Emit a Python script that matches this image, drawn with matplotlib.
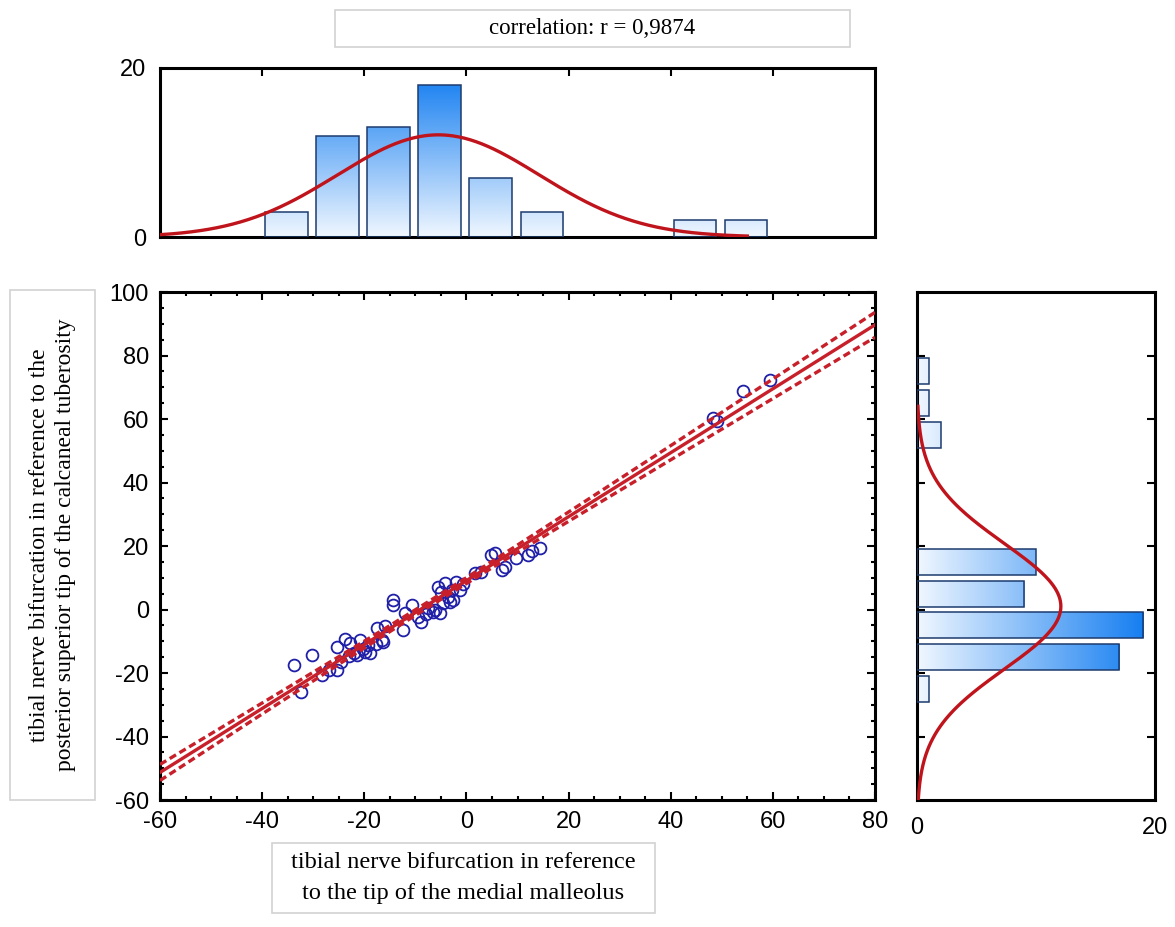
import numpy as np
import matplotlib

matplotlib.use("Agg")

import matplotlib.pyplot as plt
from matplotlib.colors import LinearSegmentedColormap
from matplotlib.patches import Rectangle
from matplotlib.ticker import MultipleLocator


# distance of the bifurcation from the medial malleolus (x) and from the
# calcaneal tuberosity (y), one pair per specimen
malleolus_mm = [
    -32.4, -33.7, -30.3,
    -28.2, -27.0, -25.3, -25.4, -24.5, -23.8, -23.0, -22.8, -22.0, -21.5, -20.8, -20.3,
    -19.9, -19.3, -18.9, -17.8, -17.6, -16.6, -16.3, -16.0, -14.4, -14.4, -12.4, -12.0, -10.7,
    -9.5, -8.8, -8.0, -7.5, -6.6, -6.1, -5.6, -5.2, -5.0, -4.6, -4.2, -3.6, -3.2, -2.9, -2.6,
    -2.0, -1.3, -0.6,
    1.7, 2.8, 4.9, 5.5, 6.9, 7.6, 9.8,
    12.1, 12.8, 14.4,
    48.3, 49.0, 54.2, 59.5,
]
calcaneus_mm = [
    -25.9, -17.5, -14.3,
    -20.5, -19.0, -19.0, -11.7, -16.5, -9.2, -14.5, -10.6, -13.8, -14.3, -9.6, -12.5,
    -13.3, -11.2, -13.7, -10.8, -5.8, -9.6, -10.3, -5.2, 3.0, 1.4, -6.5, -1.1, 1.4,
    -2.5, -3.8, -1.5, 0.5, -0.8, -0.2, 7.2, -1.1, 5.5, 2.0, 8.3, 4.0, 2.5, 6.1, 3.0,
    8.8, 6.1, 8.0,
    11.5, 11.8, 17.2, 17.8, 12.4, 13.5, 16.2,
    17.2, 18.5, 19.4,
    60.3, 59.5, 68.8, 72.3,
]
r_value = "0,9874"

# marginal histograms, 10 mm bins
x_bin_left = [-40, -30, -20, -10, 0, 10, 40, 50]
x_counts = [3, 12, 13, 18, 7, 3, 2, 2]
y_bin_low = [70, 60, 50, 10, 0, -10, -20, -30]
y_counts = [1, 1, 2, 10, 9, 19, 17, 1]
bin_width = 10

# fitted normal curves drawn over the histograms
x_mean, x_sd, x_curve_range = -5.5, 19.8, (-60, 55)
y_mean, y_sd, y_curve_range = 1.0, 19.8, (-60, 64)

RED = "#c8202a"
CURVE_RED = "#c0141c"
BLUE_EDGE = "#1d3b6e"
POINT_BLUE = "#1f1fa8"
bar_cmap = LinearSegmentedColormap.from_list("bar", ["#f0f7ff", "#0a78f0"])

plt.rcParams.update({
    "font.family": ["Liberation Sans", "DejaVu Sans"],
    "font.size": 17,
    "axes.unicode_minus": False,
})

W, H = 1175, 927
fig = plt.figure(figsize=(W / 100, H / 100), dpi=100)


def frac(x0, y0, x1, y1):
    # pixel box -> figure fraction rect
    return [x0 / W, 1 - y1 / H, (x1 - x0) / W, (y1 - y0) / H]


ax = fig.add_axes(frac(160, 292, 875, 800))
ax_top = fig.add_axes(frac(160, 68, 875, 237))
ax_right = fig.add_axes(frac(917, 292, 1155, 800))

for a in (ax, ax_top, ax_right):
    for spine in a.spines.values():
        spine.set_linewidth(2.2)


def gradient_bars(a, lefts, widths, starts, lengths, horizontal):
    grad = np.linspace(0, 1, 256)
    for pos, w, s, ln in zip(lefts, widths, starts, lengths):
        if horizontal:
            rect = Rectangle((s, pos), ln, w, facecolor="none",
                             edgecolor=BLUE_EDGE, linewidth=1.1, zorder=3)
            img = grad.reshape(1, -1)
            extent = [0, 20, pos, pos + w]
        else:
            rect = Rectangle((pos, s), w, ln, facecolor="none",
                             edgecolor=BLUE_EDGE, linewidth=1.1, zorder=3)
            img = grad.reshape(-1, 1)
            extent = [pos, pos + w, 0, 20]
        a.add_patch(rect)
        im = a.imshow(img, extent=extent, origin="lower", cmap=bar_cmap,
                      aspect="auto", zorder=2, interpolation="bilinear")
        im.set_clip_path(rect)


# main scatter with regression line and 95% confidence band
x = np.array(malleolus_mm)
y = np.array(calcaneus_mm)
slope, intercept = np.polyfit(x, y, 1)
n = len(x)
resid_sd = np.sqrt(np.sum((y - (intercept + slope * x)) ** 2) / (n - 2))
sxx = np.sum((x - x.mean()) ** 2)
xs = np.linspace(-60, 80, 300)
fit = intercept + slope * xs
half = 2.0 * resid_sd * np.sqrt(1 / n + (xs - x.mean()) ** 2 / sxx)

ax.plot(x, y, "o", mfc="none", mec=POINT_BLUE, mew=1.3, ms=8.5, zorder=2)
ax.plot(xs, fit, color=RED, lw=2.4, zorder=4)
ax.plot(xs, fit + half, color=RED, lw=2.4, ls=(0, (2.2, 1.2)), zorder=4)
ax.plot(xs, fit - half, color=RED, lw=2.4, ls=(0, (2.2, 1.2)), zorder=4)

ax.set_xlim(-60, 80)
ax.set_ylim(-60, 100)
ax.xaxis.set_major_locator(MultipleLocator(20))
ax.yaxis.set_major_locator(MultipleLocator(20))
ax.xaxis.set_minor_locator(MultipleLocator(5))
ax.yaxis.set_minor_locator(MultipleLocator(5))
ax.tick_params(which="both", direction="in", top=True, right=True, width=1.5)
ax.tick_params(which="major", length=6, pad=8)
ax.tick_params(which="minor", length=3)

# top histogram of x
gradient_bars(ax_top, [b + 0.6 for b in x_bin_left], [8.3] * len(x_counts),
              [0] * len(x_counts), x_counts, horizontal=False)
cx = np.linspace(*x_curve_range, 300)
scale = sum(x_counts) * bin_width
ax_top.plot(cx, scale * np.exp(-0.5 * ((cx - x_mean) / x_sd) ** 2) / (x_sd * np.sqrt(2 * np.pi)),
            color=CURVE_RED, lw=2.4, zorder=4)
ax_top.set_xlim(-60, 80)
ax_top.set_ylim(0, 20)
ax_top.set_xticks([-40, -20, 0, 20, 40, 60])
ax_top.set_yticks([0, 20])
ax_top.tick_params(axis="x", direction="in", top=True, bottom=False,
                   labelbottom=False, length=6, width=1.5)
ax_top.tick_params(axis="y", length=0, pad=10)

# right histogram of y
gradient_bars(ax_right, [b + 0.9 for b in y_bin_low], [8.2] * len(y_counts),
              [0] * len(y_counts), y_counts, horizontal=True)
cy = np.linspace(*y_curve_range, 300)
scale = sum(y_counts) * bin_width
ax_right.plot(scale * np.exp(-0.5 * ((cy - y_mean) / y_sd) ** 2) / (y_sd * np.sqrt(2 * np.pi)), cy,
              color=CURVE_RED, lw=2.4, zorder=4)
ax_right.set_xlim(0, 20)
ax_right.set_ylim(-60, 100)
ax_right.set_xticks([0, 20])
ax_right.set_yticks([-40, -20, 0, 20, 40, 60, 80])
ax_right.tick_params(axis="y", direction="in", left=True, right=True,
                     labelleft=False, length=6, width=1.5)
ax_right.tick_params(axis="x", length=0, pad=12)

# framed captions
serif = ["Liberation Serif", "DejaVu Serif"]


def caption(x0, y0, x1, y1, text, size, rotation=0, spacing=1.35):
    box = Rectangle((x0 / W, 1 - y1 / H), (x1 - x0) / W, (y1 - y0) / H,
                    transform=fig.transFigure, facecolor="white",
                    edgecolor="#d2d2d2", linewidth=1.2)
    fig.patches.append(box)
    fig.text((x0 + x1) / 2 / W, 1 - (y0 + y1) / 2 / H, text, family=serif,
             fontsize=size, rotation=rotation, ha="center", va="center",
             linespacing=spacing)


caption(335, 10, 850, 47, "correlation: r = " + r_value, 16.5)
caption(10, 290, 95, 800,
        "tibial nerve bifurcation in reference to the\n"
        "posterior superior tip of the calcaneal tuberosity", 17, rotation=90)
caption(272, 843, 655, 913,
        "tibial nerve bifurcation in reference\n"
        "to the tip of the medial malleolus", 17.5, spacing=1.6)

fig.savefig("out.png", dpi=100)
